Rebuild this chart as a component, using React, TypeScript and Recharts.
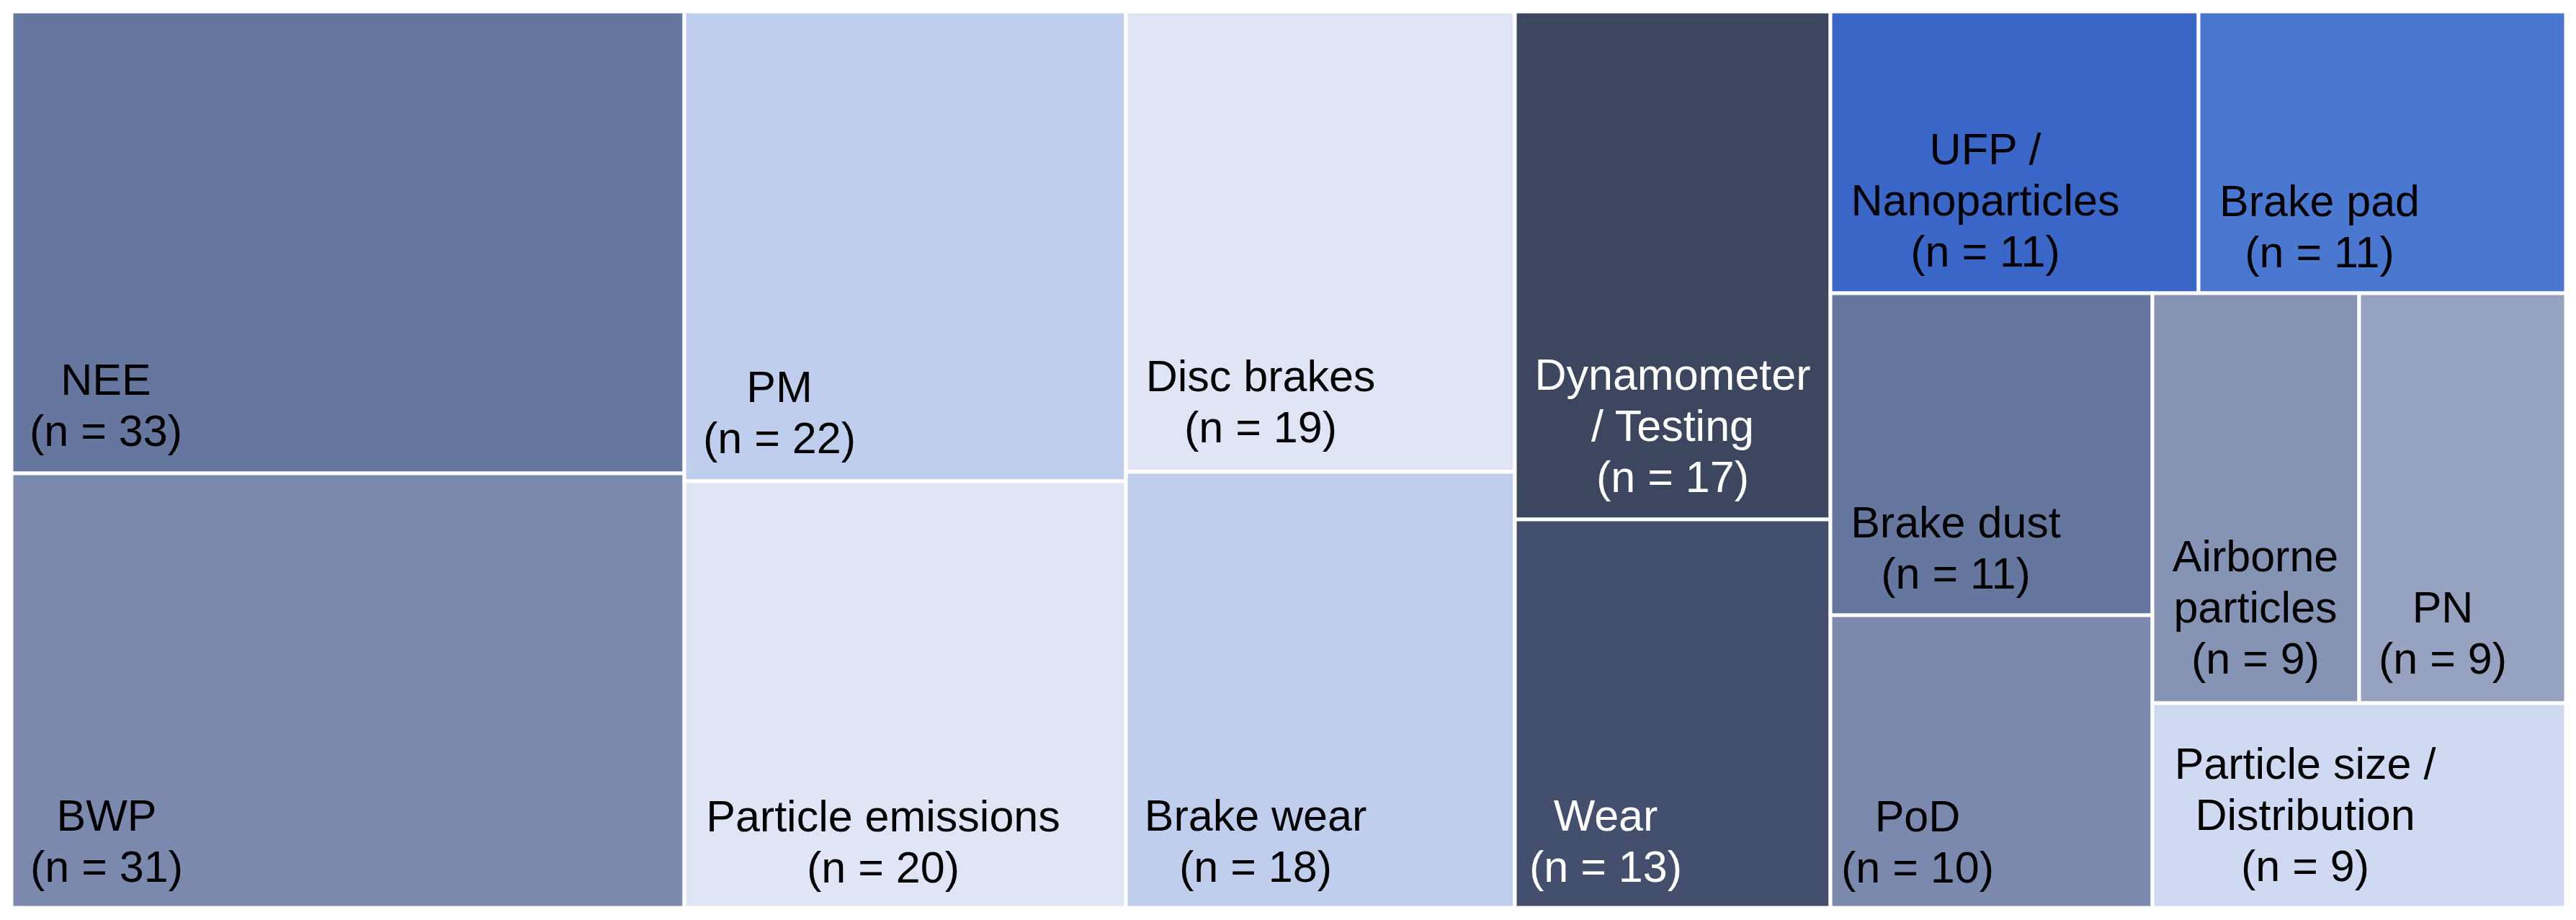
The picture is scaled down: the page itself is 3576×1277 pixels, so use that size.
import React from 'react';
import { Treemap } from 'recharts';

// ---- data ----
const names: string[] = [
  'NEE', 'BWP', 'PM', 'Particle emissions', 'Disc brakes', 'Brake wear',
  'Dynamometer / Testing', 'Wear', 'UFP / Nanoparticles', 'Brake pad',
  'Brake dust', 'PoD', 'Airborne particles', 'PN', 'Particle size / Distribution',
];
const counts: number[] = [33, 31, 22, 20, 19, 18, 17, 13, 11, 11, 11, 10, 9, 9, 9];
const labelLines: string[][] = [
  ['NEE'], ['BWP'], ['PM'], ['Particle emissions'], ['Disc brakes'], ['Brake wear'],
  ['Dynamometer', '/ Testing'], ['Wear'], ['UFP /', 'Nanoparticles'], ['Brake pad'],
  ['Brake dust'], ['PoD'], ['Airborne', 'particles'], ['PN'], ['Particle size /', 'Distribution'],
];

// ---- styles ----
const cellColors: string[] = [
  '#65779E', '#7A89AD', '#BFCEEC', '#DFE5F5', '#DFE5F5', '#BFCEEC',
  '#3C465E', '#434F6C', '#3A66C8', '#4A77CF',
  '#65779E', '#7A89AD', '#8593B4', '#96A2C0', '#CFDAF2',
];
const textColors: string[] = [
  '#000', '#000', '#000', '#000', '#000', '#000',
  '#fff', '#fff', '#000', '#000',
  '#000', '#000', '#000', '#000', '#000',
];
// label placement relative to the cell: [centre x offset, first baseline offset]
const labelOffsets: [number, number][] = [
  [131, 532], [132, 496], [132, 542], [276, 486], [187, 527], [180, 498],
  [219, 525], [126, 432], [215, 212], [168, 284],
  [174, 339], [121, 300], [143, 386], [116, 457], [212, 105],
];

const LINE_H = 71;
const FONT = '"Liberation Sans", Arial, Helvetica, sans-serif';

const data = names.map((name, i) => ({ name, value: counts[i], idx: i }));

const Cell = (props: any) => {
  const { x, y, width, height, depth } = props;
  if (depth !== 1) return null;
  const i: number = props.idx ?? props.payload?.idx ?? props.index;
  const [dx, dy] = labelOffsets[i];
  const lines = [...labelLines[i], `(n = ${counts[i]})`];
  return (
    <g>
      <rect x={x} y={y} width={width} height={height} fill={cellColors[i]} stroke="#ffffff" strokeWidth={5} />
      <text
        x={x + dx}
        y={y + dy}
        textAnchor="middle"
        fontFamily={FONT}
        fontSize={61}
        fill={textColors[i]}
      >
        {lines.map((l, k) => (
          <tspan key={k} x={x + dx} dy={k === 0 ? 0 : LINE_H}>{l}</tspan>
        ))}
      </text>
    </g>
  );
};

export default function App() {
  return (
    <div style={{ position: 'absolute', left: 16, top: 16 }}>
      <Treemap
        width={3546}
        height={1244}
        data={data}
        dataKey="value"
        nameKey="name"
        aspectRatio={1}
        isAnimationActive={false}
        content={<Cell />}
      />
    </div>
  );
}
